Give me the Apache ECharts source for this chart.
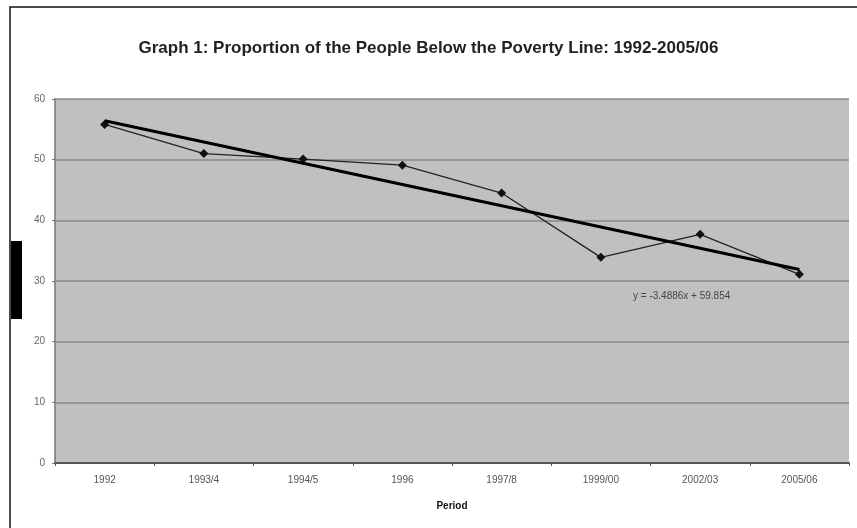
<!DOCTYPE html>
<html>
<head>
<meta charset="utf-8">
<script src="https://cdn.jsdelivr.net/npm/echarts@6/dist/echarts.min.js"></script>
<style>
html, body { margin: 0; padding: 0; background: #fff; }
#chart { width: 857px; height: 528px; }
</style>
</head>
<body>
<div id="chart"></div>
<script>
// poverty data
var periods = ['1992', '1993/4', '1994/5', '1996', '1997/8', '1999/00', '2002/03', '2005/06'];
var povertyShare = [55.8, 51.0, 50.1, 49.1, 44.5, 33.9, 37.7, 31.1];
// linear trend end points (y = -3.4886x + 59.854)
var trendValues = [56.4, null, null, null, null, null, null, 31.9];
var yTicks = [0, 10, 20, 30, 40, 50, 60];

var chart = echarts.init(document.getElementById('chart'));

var option = {
    backgroundColor: '#fff',
    animation: false,
    title: {
        text: 'Graph 1: Proportion of the People Below the Poverty Line: 1992-2005/06',
        left: 'center',
        top: 35,
        textStyle: {
            fontFamily: 'Liberation Sans',
            fontSize: 17,
            fontWeight: 'bold',
            color: '#222'
        }
    },
    grid: {
        left: 55,
        right: 8,
        top: 99,
        bottom: 65,
        show: true,
        backgroundColor: '#c0c0c0',
        borderWidth: 0
    },
    xAxis: {
        type: 'category',
        data: periods,
        boundaryGap: true,
        name: 'Period',
        nameLocation: 'middle',
        nameGap: 38,
        nameTextStyle: {
            fontFamily: 'Liberation Sans',
            fontSize: 10,
            fontWeight: 'bold',
            color: '#111'
        },
        axisLine: { lineStyle: { color: '#555', width: 2 } },
        axisTick: { show: true, length: 3, lineStyle: { color: '#555' } },
        axisLabel: {
            margin: 12,
            fontFamily: 'Liberation Sans',
            fontSize: 10,
            color: '#555'
        }
    },
    yAxis: {
        type: 'value',
        min: yTicks[0],
        max: yTicks[yTicks.length - 1],
        interval: 10,
        axisLine: { show: true, lineStyle: { color: '#777', width: 1.5 } },
        axisTick: { show: true, length: 3, lineStyle: { color: '#777' } },
        axisLabel: {
            margin: 10,
            fontFamily: 'Liberation Sans',
            fontSize: 10,
            color: '#666'
        },
        splitLine: { lineStyle: { color: '#888', width: 1.5 } }
    },
    series: [
        {
            name: 'Poverty',
            type: 'line',
            data: povertyShare,
            symbol: 'diamond',
            symbolSize: 9,
            itemStyle: { color: '#111' },
            lineStyle: { color: '#222', width: 1.3 },
            z: 3
        },
        {
            name: 'Trend',
            type: 'line',
            data: trendValues,
            connectNulls: true,
            symbol: 'none',
            lineStyle: { color: '#000', width: 3 },
            z: 4
        }
    ],
    graphic: [
        {
            type: 'rect',
            shape: { x: 10, y: 7, width: 900, height: 600 },
            style: { fill: 'none', stroke: '#111', lineWidth: 1.5 },
            silent: true
        },
        {
            type: 'rect',
            shape: { x: 11, y: 241, width: 11, height: 78 },
            style: { fill: '#000' },
            silent: true
        },
        {
            type: 'text',
            left: 633,
            top: 291,
            style: {
                text: 'y = -3.4886x + 59.854',
                fontFamily: 'Liberation Sans',
                fontSize: 10,
                fill: '#444'
            },
            z: 10
        }
    ]
};

chart.setOption(option);
</script>
</body>
</html>
